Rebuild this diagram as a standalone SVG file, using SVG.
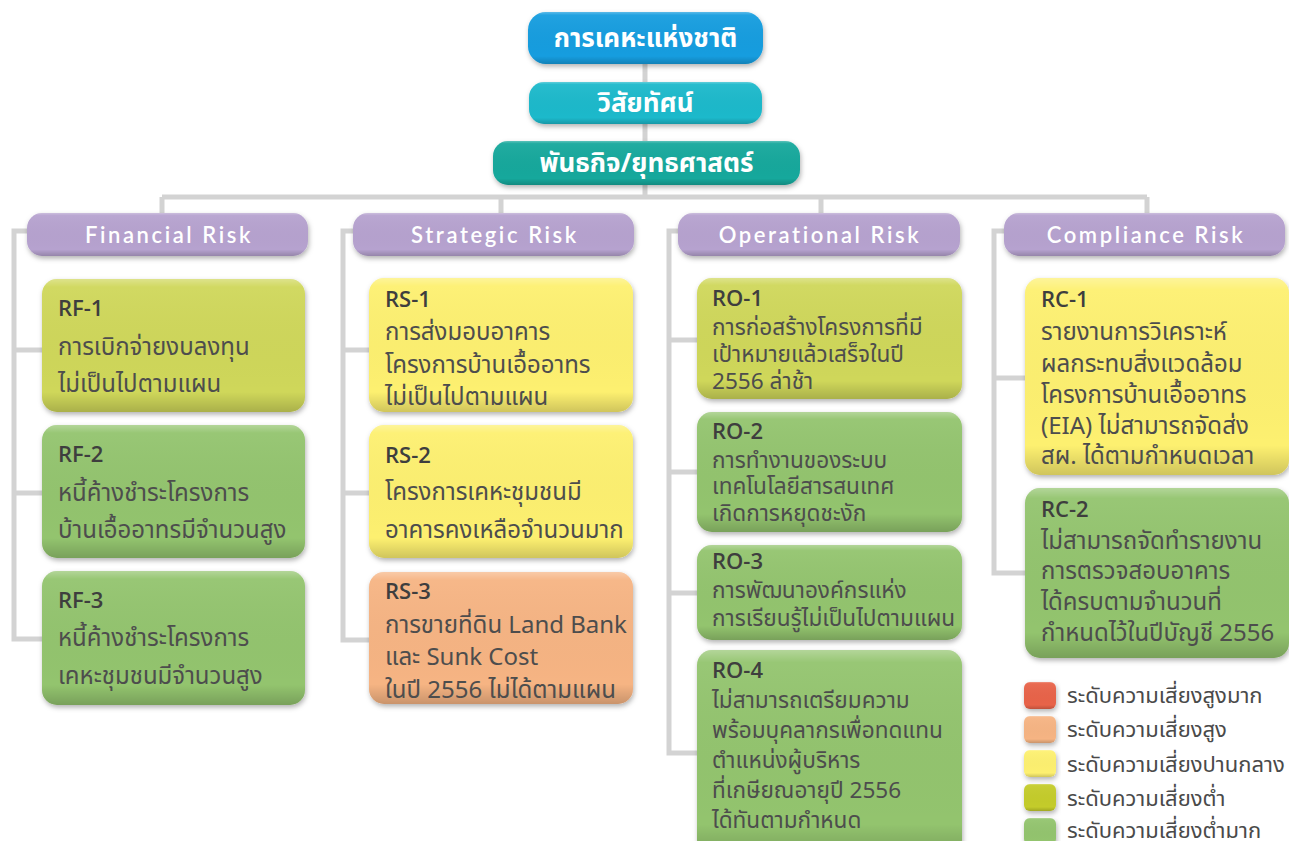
<svg xmlns="http://www.w3.org/2000/svg" width="1289" height="841" viewBox="0 0 1289 841">
<style>
.conn{fill:none;stroke:#d3d3d3;stroke-width:5;stroke-linejoin:miter}
.top{font-family:"Noto Sans","Noto Sans Thai",sans-serif;font-weight:700;fill:#fff;font-size:26px;text-anchor:middle}
.cat{font-family:Lato,"Liberation Sans",sans-serif;font-weight:600;fill:#fff;font-size:22px;letter-spacing:2.6px;text-anchor:middle}
.id{font-family:"Open Sans","Liberation Sans",sans-serif;font-weight:600;fill:#3e3e3e;font-size:22px}
.bd{font-family:"Noto Sans","Noto Sans Thai",sans-serif;fill:#4d4d4d;font-size:24px}
.bo{font-family:"Noto Sans","Noto Sans Thai",sans-serif;fill:#4d4d4d;font-size:22.6px}
.lg{font-family:"Noto Sans","Noto Sans Thai",sans-serif;fill:#4a4a4a;font-size:22px}
.gl{fill:url(#gloss)}
</style>
<defs>
<filter id="sh" x="-10%" y="-10%" width="125%" height="130%">
<feDropShadow dx="1" dy="2.5" stdDeviation="2.5" flood-color="#000" flood-opacity="0.3"/>
</filter>
<linearGradient id="gloss" x1="0" y1="0" x2="0" y2="1">
<stop offset="0" stop-color="#fff" stop-opacity="0.3"/>
<stop offset="0.06" stop-color="#fff" stop-opacity="0.05"/>
<stop offset="0.85" stop-color="#000" stop-opacity="0"/>
<stop offset="1" stop-color="#000" stop-opacity="0.18"/>
</linearGradient>
</defs>
<rect width="1289" height="841" fill="#fff"/>

<g id="connectors">
<path class="conn" d="M645 60V197M162 197H1147M162 197V216M501 197V216M821 197V216M1147 197V216"/>
<path class="conn" d="M30 231H14V639H44M14 350H44M14 493H44"/>
<path class="conn" d="M356 231H343V640H371M343 350H371M343 493H371"/>
<path class="conn" d="M681 231H669V753H699M669 340H699M669 472H699M669 593H699"/>
<path class="conn" d="M1007 231H994V573H1027M994 378H1027"/>
</g>

<g id="n-nha">
<rect x="528" y="12" width="235" height="52" rx="18" fill="#129ddf" filter="url(#sh)"/>
<rect x="528" y="12" width="235" height="52" rx="18" class="gl"/>
<text class="top" x="645.5" y="47">การเคหะแห่งชาติ</text>
</g>
<g id="n-vision">
<rect x="529" y="82" width="233" height="42" rx="15" fill="#1cb9cb" filter="url(#sh)"/>
<rect x="529" y="82" width="233" height="42" rx="15" class="gl"/>
<text class="top" x="645.5" y="112">วิสัยทัศน์</text>
</g>
<g id="n-mission">
<rect x="493" y="141" width="307" height="44" rx="15" fill="#16a89c" filter="url(#sh)"/>
<rect x="493" y="141" width="307" height="44" rx="15" class="gl"/>
<text class="top" x="646.5" y="172">พันธกิจ/ยุทธศาสตร์</text>
</g>

<g id="h-financial">
<rect x="27" y="213" width="281" height="43" rx="15" fill="#b6a2cf" filter="url(#sh)"/>
<rect x="27" y="213" width="281" height="43" rx="15" class="gl"/>
<text class="cat" x="169" y="243">Financial Risk</text>
</g>
<g id="h-strategic">
<rect x="353" y="213" width="281" height="43" rx="15" fill="#b6a2cf" filter="url(#sh)"/>
<rect x="353" y="213" width="281" height="43" rx="15" class="gl"/>
<text class="cat" x="495" y="243">Strategic Risk</text>
</g>
<g id="h-operational">
<rect x="678" y="213" width="282" height="43" rx="15" fill="#b6a2cf" filter="url(#sh)"/>
<rect x="678" y="213" width="282" height="43" rx="15" class="gl"/>
<text class="cat" x="820" y="243">Operational Risk</text>
</g>
<g id="h-compliance">
<rect x="1004" y="213" width="281" height="43" rx="15" fill="#b6a2cf" filter="url(#sh)"/>
<rect x="1004" y="213" width="281" height="43" rx="15" class="gl"/>
<text class="cat" x="1146" y="243">Compliance Risk</text>
</g>

<g id="RF-1">
<rect x="42" y="279" width="263" height="133" rx="15" fill="#cfd75a" filter="url(#sh)"/>
<rect x="42" y="279" width="263" height="133" rx="15" class="gl"/>
<text class="id" x="58" y="316">RF-1</text>
<text class="bd" x="58" y="355">การเบิกจ่ายงบลงทุน</text>
<text class="bd" x="58" y="392">ไม่เป็นไปตามแผน</text>
</g>
<g id="RF-2">
<rect x="42" y="425" width="263" height="133" rx="15" fill="#93c46e" filter="url(#sh)"/>
<rect x="42" y="425" width="263" height="133" rx="15" class="gl"/>
<text class="id" x="58" y="462">RF-2</text>
<text class="bd" x="58" y="501">หนี้ค้างชำระโครงการ</text>
<text class="bd" x="58" y="538">บ้านเอื้ออาทรมีจำนวนสูง</text>
</g>
<g id="RF-3">
<rect x="42" y="571" width="263" height="134" rx="15" fill="#93c46e" filter="url(#sh)"/>
<rect x="42" y="571" width="263" height="134" rx="15" class="gl"/>
<text class="id" x="58" y="608">RF-3</text>
<text class="bd" x="58" y="646">หนี้ค้างชำระโครงการ</text>
<text class="bd" x="58" y="684">เคหะชุมชนมีจำนวนสูง</text>
</g>

<g id="RS-1">
<rect x="369" y="278" width="264" height="134" rx="15" fill="#fdf06f" filter="url(#sh)"/>
<rect x="369" y="278" width="264" height="134" rx="15" class="gl"/>
<text class="id" x="385" y="307">RS-1</text>
<text class="bd" x="385" y="340">การส่งมอบอาคาร</text>
<text class="bd" x="385" y="373">โครงการบ้านเอื้ออาทร</text>
<text class="bd" x="385" y="405">ไม่เป็นไปตามแผน</text>
</g>
<g id="RS-2">
<rect x="369" y="425" width="264" height="133" rx="15" fill="#fdf06f" filter="url(#sh)"/>
<rect x="369" y="425" width="264" height="133" rx="15" class="gl"/>
<text class="id" x="385" y="463">RS-2</text>
<text class="bd" x="385" y="500">โครงการเคหะชุมชนมี</text>
<text class="bd" x="385" y="538">อาคารคงเหลือจำนวนมาก</text>
</g>
<g id="RS-3">
<rect x="369" y="572" width="264" height="132" rx="15" fill="#f6b483" filter="url(#sh)"/>
<rect x="369" y="572" width="264" height="132" rx="15" class="gl"/>
<text class="id" x="385" y="599">RS-3</text>
<text class="bd" x="385" y="633">การขายที่ดิน Land Bank</text>
<text class="bd" x="385" y="665">และ Sunk Cost</text>
<text class="bd" x="385" y="698">ในปี 2556 ไม่ได้ตามแผน</text>
</g>

<g id="RO-1">
<rect x="697" y="278" width="265" height="121" rx="15" fill="#cfd75a" filter="url(#sh)"/>
<rect x="697" y="278" width="265" height="121" rx="15" class="gl"/>
<text class="id" x="712" y="306">RO-1</text>
<text class="bo" x="712" y="335">การก่อสร้างโครงการที่มี</text>
<text class="bo" x="712" y="362">เป้าหมายแล้วเสร็จในปี</text>
<text class="bo" x="712" y="389">2556 ล่าช้า</text>
</g>
<g id="RO-2">
<rect x="697" y="412" width="265" height="120" rx="15" fill="#93c46e" filter="url(#sh)"/>
<rect x="697" y="412" width="265" height="120" rx="15" class="gl"/>
<text class="id" x="712" y="439">RO-2</text>
<text class="bo" x="712" y="468">การทำงานของระบบ</text>
<text class="bo" x="712" y="494">เทคโนโลยีสารสนเทศ</text>
<text class="bo" x="712" y="521">เกิดการหยุดชะงัก</text>
</g>
<g id="RO-3">
<rect x="697" y="545" width="265" height="95" rx="15" fill="#93c46e" filter="url(#sh)"/>
<rect x="697" y="545" width="265" height="95" rx="15" class="gl"/>
<text class="id" x="712" y="569">RO-3</text>
<text class="bo" x="712" y="598">การพัฒนาองค์กรแห่ง</text>
<text class="bo" x="712" y="626">การเรียนรู้ไม่เป็นไปตามแผน</text>
</g>
<g id="RO-4">
<rect x="697" y="650" width="265" height="205" rx="15" fill="#93c46e" filter="url(#sh)"/>
<rect x="697" y="650" width="265" height="205" rx="15" class="gl"/>
<text class="id" x="712" y="678">RO-4</text>
<text class="bo" x="712" y="708">ไม่สามารถเตรียมความ</text>
<text class="bo" x="712" y="738">พร้อมบุคลากรเพื่อทดแทน</text>
<text class="bo" x="712" y="768">ตำแหน่งผู้บริหาร</text>
<text class="bo" x="712" y="798">ที่เกษียณอายุปี 2556</text>
<text class="bo" x="712" y="828">ได้ทันตามกำหนด</text>
</g>

<g id="RC-1">
<rect x="1025" y="278" width="264" height="197" rx="15" fill="#fdf06f" filter="url(#sh)"/>
<rect x="1025" y="278" width="264" height="197" rx="15" class="gl"/>
<text class="id" x="1041" y="307">RC-1</text>
<text class="bd" x="1041" y="340">รายงานการวิเคราะห์</text>
<text class="bd" x="1041" y="372">ผลกระทบสิ่งแวดล้อม</text>
<text class="bd" x="1041" y="403">โครงการบ้านเอื้ออาทร</text>
<text class="bd" x="1041" y="434">(EIA) ไม่สามารถจัดส่ง</text>
<text class="bd" x="1041" y="464">สผ. ได้ตามกำหนดเวลา</text>
</g>
<g id="RC-2">
<rect x="1025" y="488" width="264" height="170" rx="15" fill="#93c46e" filter="url(#sh)"/>
<rect x="1025" y="488" width="264" height="170" rx="15" class="gl"/>
<text class="id" x="1041" y="517">RC-2</text>
<text class="bd" x="1041" y="549">ไม่สามารถจัดทำรายงาน</text>
<text class="bd" x="1041" y="579">การตรวจสอบอาคาร</text>
<text class="bd" x="1041" y="610">ได้ครบตามจำนวนที่</text>
<text class="bd" x="1041" y="641">กำหนดไว้ในปีบัญชี 2556</text>
</g>

<g id="legend">
<rect x="1024" y="682" width="32" height="27" rx="6" fill="#e8644a" filter="url(#sh)"/>
<rect x="1024" y="682" width="32" height="27" rx="6" class="gl"/>
<rect x="1024" y="716" width="32" height="27" rx="6" fill="#f6b483" filter="url(#sh)"/>
<rect x="1024" y="716" width="32" height="27" rx="6" class="gl"/>
<rect x="1024" y="750" width="32" height="27" rx="6" fill="#fdf06f" filter="url(#sh)"/>
<rect x="1024" y="750" width="32" height="27" rx="6" class="gl"/>
<rect x="1024" y="784" width="32" height="27" rx="6" fill="#c4cc2c" filter="url(#sh)"/>
<rect x="1024" y="784" width="32" height="27" rx="6" class="gl"/>
<rect x="1024" y="818" width="32" height="27" rx="6" fill="#93c46e" filter="url(#sh)"/>
<rect x="1024" y="818" width="32" height="27" rx="6" class="gl"/>
<text class="lg" x="1067" y="703">ระดับความเสี่ยงสูงมาก</text>
<text class="lg" x="1067" y="737">ระดับความเสี่ยงสูง</text>
<text class="lg" x="1067" y="772">ระดับความเสี่ยงปานกลาง</text>
<text class="lg" x="1067" y="806">ระดับความเสี่ยงต่ำ</text>
<text class="lg" x="1067" y="838">ระดับความเสี่ยงต่ำมาก</text>
</g>
</svg>
